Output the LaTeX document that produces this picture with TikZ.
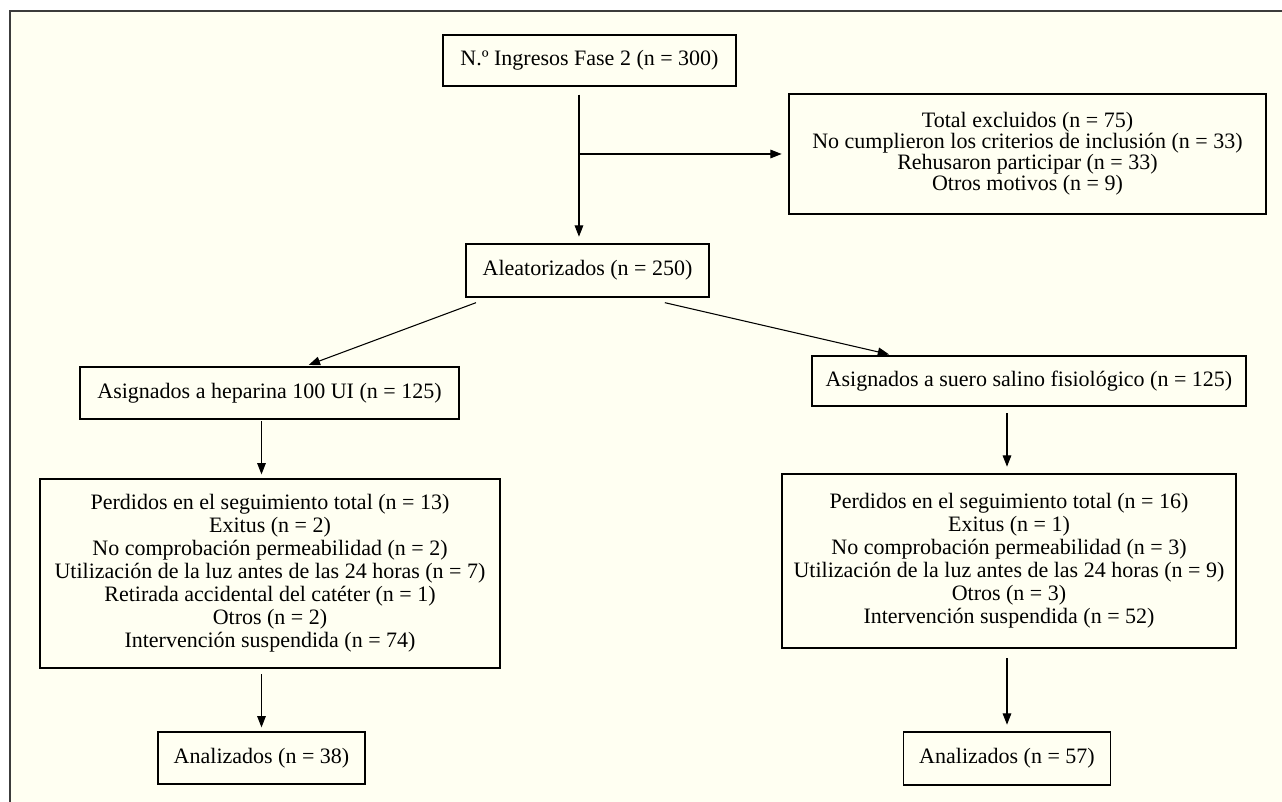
\documentclass[tikz,border=0pt]{standalone}
\usepackage{fontspec}
\setmainfont{Liberation Serif}
\usetikzlibrary{arrows.meta}
\definecolor{crema}{RGB}{255,255,242}
\definecolor{marco}{RGB}{60,60,60}
\tikzset{
 bx/.style={draw,line width=1pt,fill=crema,inner sep=0pt,align=center,
  font=\fontsize{16.5}{15.75}\selectfont},
 big/.style={bx,font=\fontsize{16.5}{17.25}\selectfont},
 ar/.style={-{Triangle[length=8.5pt,width=6.5pt]},line width=0.8pt,shorten >=3pt}}

\begin{document}
\begin{tikzpicture}[x=0.75pt,y=-0.75pt]
 \useasboundingbox (0,0) rectangle (1282,802);
 \fill[crema] (10,11) rectangle (1282,802);
 \draw[marco,line width=1.5pt] (10,802)--(10,11)--(1282,11);
 % boxes
 \node[bx,minimum width=219.75pt,minimum height=38.25pt] (ing) at (589.5,60.5)
  {N.º Ingresos Fase 2 (n = 300)};
 \node[bx,minimum width=357.75pt,minimum height=90pt] (excl) at (1027.5,154)
  {Total excluidos (n = 75)\\No cumplieron los criterios de inclusión (n = 33)\\
   Rehusaron participar (n = 33)\\Otros motivos (n = 9)};
 \node[bx,minimum width=182.25pt,minimum height=39.75pt] (alea) at (587.5,270.5)
  {Aleatorizados (n = 250)};
 \node[bx,minimum width=284.25pt,minimum height=39pt] (hep) at (269.5,393)
  {Asignados a heparina 100 UI (n = 125)};
 \node[bx,minimum width=325.5pt,minimum height=37.5pt] (sal) at (1029,381)
  {Asignados a suero salino fisiológico (n = 125)};
 \node[big,minimum width=345pt,minimum height=141.75pt] (perH) at (270,573.5)
  {Perdidos en el seguimiento total (n = 13)\\Exitus (n = 2)\\
   No comprobación permeabilidad (n = 2)\\
   Utilización de la luz antes de las 24 horas (n = 7)\\
   Retirada accidental del catéter (n = 1)\\Otros (n = 2)\\
   Intervención suspendida (n = 74)};
 \node[big,minimum width=340.5pt,minimum height=130.5pt] (perS) at (1009,561)
  {Perdidos en el seguimiento total (n = 16)\\Exitus (n = 1)\\
   No comprobación permeabilidad (n = 3)\\
   Utilización de la luz antes de las 24 horas (n = 9)\\
   Otros (n = 3)\\Intervención suspendida (n = 52)};
 \node[bx,minimum width=155.25pt,minimum height=39pt] (anH) at (261.5,758)
  {Analizados (n = 38)};
 \node[bx,minimum width=155.25pt,minimum height=39.75pt] (anS) at (1007,758.5)
  {Analizados (n = 57)};
 % connectors
 \coordinate (tr) at ([xshift=-7.9pt,yshift=-6pt]ing.south);
 \coordinate (fk) at (579,154);
 \draw[ar,shorten >=5pt] (tr) -- (tr |- alea.north);
 \draw[ar,shorten >=5pt] (fk) -- (fk -| excl.west);
 \draw[ar] ([xshift=-83.6pt,yshift=-3.75pt]alea.south) -- ([xshift=26.6pt]hep.north);
 \draw[ar] ([xshift=58pt,yshift=-3.75pt]alea.south) -- ([xshift=-102pt]sal.north);
 \draw[ar] ([yshift=-1pt]hep.south -| anH) -- (perH.north -| anH);
 \draw[ar] ([yshift=-4pt]perH.south -| anH) -- (anH);
 \draw[ar,shorten >=5pt] ([yshift=-5pt]sal.south -| anS) -- (perS.north -| anS);
 \draw[ar,shorten >=5pt] ([yshift=-7pt]perS.south -| anS) -- (anS);
\end{tikzpicture}
\end{document}
